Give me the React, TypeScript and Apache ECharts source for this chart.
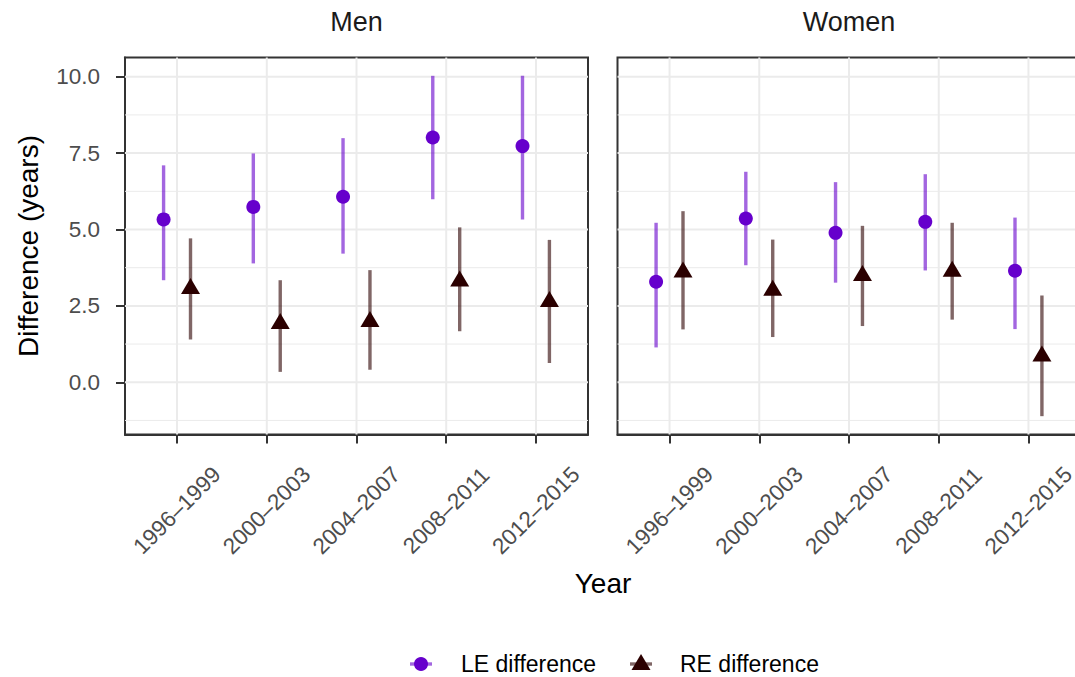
import React, { useEffect, useRef } from 'react';
import * as echarts from 'echarts';

const CATEGORIES = ['1996–1999', '2000–2003', '2004–2007', '2008–2011', '2012–2015'];
const PANELS = ['Men', 'Women'];
const SERIES_NAMES = ['LE difference', 'RE difference'];

// Men
const MEN_LE = [5.33, 5.74, 6.07, 8.01, 7.73];
const MEN_LE_LO = [3.34, 3.89, 4.21, 5.99, 5.33];
const MEN_LE_HI = [7.10, 7.49, 7.99, 10.03, 10.03];
const MEN_RE = [3.06, 1.92, 1.98, 3.31, 2.64];
const MEN_RE_LO = [1.40, 0.34, 0.41, 1.67, 0.63];
const MEN_RE_HI = [4.71, 3.34, 3.67, 5.07, 4.66];

// Women
const WOMEN_LE = [3.29, 5.36, 4.89, 5.25, 3.65];
const WOMEN_LE_LO = [1.14, 3.83, 3.26, 3.66, 1.74];
const WOMEN_LE_HI = [5.22, 6.89, 6.55, 6.81, 5.39];
const WOMEN_RE = [3.60, 3.01, 3.49, 3.63, 0.85];
const WOMEN_RE_LO = [1.73, 1.48, 1.84, 2.05, -1.11];
const WOMEN_RE_HI = [5.60, 4.67, 5.12, 5.22, 2.84];

const Y_MAJOR = [0, 2.5, 5, 7.5, 10];
const Y_MINOR = [-1.25, 1.25, 3.75, 6.25, 8.75];
const X_TICKS = [1, 2, 3, 4, 5];
const Y_MIN = -1.71;
const Y_MAX = 10.63;
const X_MIN = 0.42;
const X_MAX = 5.58;
const DODGE = 0.15;

const FONT = "'Liberation Sans', Arial, Helvetica, sans-serif";
const LE_COLOR = '#6600CC';
const LE_BAR = 'rgba(102,0,204,0.6)';
const RE_COLOR = '#2B0000';
const RE_BAR = 'rgba(43,0,0,0.6)';
const TRI_W = 19;
const TRI_H = 16;

const GRID_TOP = 57.5;
const GRID_H = 377;
const GRID_W = 463;
const GRID_LEFTS = [125, 617.5];

function gridSeries(idx: number) {
  const data: number[][] = [
    ...Y_MINOR.map((v) => [0, v, 0]),
    ...Y_MAJOR.map((v) => [0, v, 1]),
    ...X_TICKS.map((v) => [1, v, 1]),
  ];
  return {
    type: 'custom',
    xAxisIndex: idx,
    yAxisIndex: idx,
    silent: true,
    z: 1,
    data,
    renderItem: (params: any, api: any) => {
      const cs = params.coordSys;
      const kind = api.value(0);
      const v = api.value(1);
      const major = api.value(2) === 1;
      const style = { stroke: '#EBEBEB', lineWidth: major ? 2 : 1 };
      if (kind === 0) {
        const y = api.coord([1, v])[1];
        return { type: 'line', shape: { x1: cs.x, y1: y, x2: cs.x + cs.width, y2: y }, style };
      }
      const x = api.coord([v, 0])[0];
      return { type: 'line', shape: { x1: x, y1: cs.y, x2: x, y2: cs.y + cs.height }, style };
    },
  };
}

function errSeries(name: string, idx: number, lo: number[], hi: number[], offset: number, color: string) {
  return {
    type: 'custom',
    name,
    xAxisIndex: idx,
    yAxisIndex: idx,
    silent: true,
    z: 3,
    data: lo.map((l, i) => [i + 1 + offset, l, hi[i]]),
    encode: { x: 0, y: [1, 2] },
    renderItem: (_params: any, api: any) => {
      const p1 = api.coord([api.value(0), api.value(1)]);
      const p2 = api.coord([api.value(0), api.value(2)]);
      return {
        type: 'line',
        shape: { x1: p1[0], y1: p1[1], x2: p2[0], y2: p2[1] },
        style: { stroke: color, lineWidth: 3.4, lineCap: 'butt' },
      };
    },
  };
}

function pointSeries(name: string, idx: number, vals: number[], offset: number, isLE: boolean) {
  return {
    type: 'scatter',
    name,
    xAxisIndex: idx,
    yAxisIndex: idx,
    z: 4,
    data: vals.map((v, i) => [i + 1 + offset, v]),
    symbol: isLE ? 'circle' : 'triangle',
    symbolSize: isLE ? 14 : [TRI_W, TRI_H],
    symbolOffset: isLE ? [0, 0] : [0, -TRI_H / 6],
    itemStyle: { color: isLE ? LE_COLOR : RE_COLOR, opacity: 1 },
  };
}

export default function App() {
  const ref = useRef<HTMLDivElement>(null);
  useEffect(() => {
    if (!ref.current) return;
    const chart = echarts.init(ref.current, null, { renderer: 'svg' });

    const grids = GRID_LEFTS.map((left) => ({
      left,
      top: GRID_TOP,
      width: GRID_W,
      height: GRID_H,
      show: true,
      backgroundColor: '#FFFFFF',
      borderColor: '#333333',
      borderWidth: 2,
      containLabel: false,
      outerBoundsMode: 'none',
    }));

    const xAxes = GRID_LEFTS.map((_, i) => ({
      type: 'value',
      gridIndex: i,
      min: X_MIN,
      max: X_MAX,
      axisLine: { show: true, onZero: false, lineStyle: { color: '#333333', width: 2 } },
      axisTick: { show: true, customValues: X_TICKS, length: 9, lineStyle: { color: '#333333', width: 2 } },
      axisLabel: {
        show: true,
        customValues: X_TICKS,
        formatter: (v: number) => CATEGORIES[Math.round(v) - 1] ?? '',
        rotate: 45,
        align: 'center',
        verticalAlign: 'middle',
        margin: 76,
        color: '#4D4D4D',
        fontSize: 22.5,
        fontFamily: FONT,
      },
      splitLine: { show: false },
    }));

    const yAxes = GRID_LEFTS.map((_, i) => ({
      type: 'value',
      gridIndex: i,
      min: Y_MIN,
      max: Y_MAX,
      axisLine: { show: i === 0, onZero: false, lineStyle: { color: '#333333', width: 2 } },
      axisTick: { show: i === 0, customValues: Y_MAJOR, length: 9, lineStyle: { color: '#333333', width: 2 } },
      axisLabel: {
        show: i === 0,
        customValues: Y_MAJOR,
        formatter: (v: number) => v.toFixed(1),
        margin: 25,
        color: '#4D4D4D',
        fontSize: 22.5,
        fontFamily: FONT,
      },
      splitLine: { show: false },
    }));

    const series: any[] = [gridSeries(0), gridSeries(1)];
    const panelData = [
      [MEN_LE, MEN_LE_LO, MEN_LE_HI, MEN_RE, MEN_RE_LO, MEN_RE_HI],
      [WOMEN_LE, WOMEN_LE_LO, WOMEN_LE_HI, WOMEN_RE, WOMEN_RE_LO, WOMEN_RE_HI],
    ];
    panelData.forEach(([le, leLo, leHi, re, reLo, reHi], idx) => {
      series.push(errSeries(SERIES_NAMES[0] + ' range', idx, leLo, leHi, -DODGE, LE_BAR));
      series.push(pointSeries(SERIES_NAMES[0], idx, le, -DODGE, true));
      series.push(errSeries(SERIES_NAMES[1] + ' range', idx, reLo, reHi, DODGE, RE_BAR));
      series.push(pointSeries(SERIES_NAMES[1], idx, re, DODGE, false));
    });

    const stripStyle = { fontSize: 27, fontFamily: FONT, fill: '#1A1A1A', textAlign: 'center', textVerticalAlign: 'middle' };
    const titleStyle = { fontSize: 28, fontFamily: FONT, fill: '#000000', textAlign: 'center', textVerticalAlign: 'middle' };
    const legendText = { fontSize: 23, fontFamily: FONT, fill: '#000000', textAlign: 'left', textVerticalAlign: 'middle' };

    const graphic: any[] = [
      { type: 'text', left: undefined, x: GRID_LEFTS[0] + GRID_W / 2, y: 22, style: { ...stripStyle, text: PANELS[0] } },
      { type: 'text', x: GRID_LEFTS[1] + GRID_W / 2, y: 22, style: { ...stripStyle, text: PANELS[1] } },
      { type: 'text', x: 603, y: 583, style: { ...titleStyle, text: 'Year' } },
      { type: 'text', x: 28, y: 246, rotation: Math.PI / 2, style: { ...titleStyle, text: 'Difference (years)' } },
      // legend
      {
        type: 'group',
        x: 421,
        y: 664,
        children: [
          { type: 'line', shape: { x1: -11, y1: 0, x2: 11, y2: 0 }, style: { stroke: LE_BAR, lineWidth: 3.4 } },
          { type: 'circle', shape: { cx: 0, cy: 0, r: 7 }, style: { fill: LE_COLOR } },
        ],
      },
      { type: 'text', x: 461, y: 664, style: { ...legendText, text: SERIES_NAMES[0] } },
      {
        type: 'group',
        x: 641,
        y: 664,
        children: [
          { type: 'line', shape: { x1: -11, y1: 0, x2: 11, y2: 0 }, style: { stroke: RE_BAR, lineWidth: 3.4 } },
          {
            type: 'polygon',
            shape: { points: [[-TRI_W / 2, TRI_H / 2 - 2], [TRI_W / 2, TRI_H / 2 - 2], [0, -TRI_H / 2 - 2]] },
            style: { fill: RE_COLOR },
          },
        ],
      },
      { type: 'text', x: 680, y: 664, style: { ...legendText, text: SERIES_NAMES[1] } },
    ];

    chart.setOption({
      animation: false,
      backgroundColor: '#FFFFFF',
      textStyle: { fontFamily: FONT },
      grid: grids,
      xAxis: xAxes,
      yAxis: yAxes,
      series,
      graphic,
    });
    return () => chart.dispose();
  }, []);

  return (
    <div
      ref={ref}
      style={{ position: 'absolute', left: 0, top: 0, width: 1075, height: 677, overflow: 'hidden' }}
    />
  );
}
